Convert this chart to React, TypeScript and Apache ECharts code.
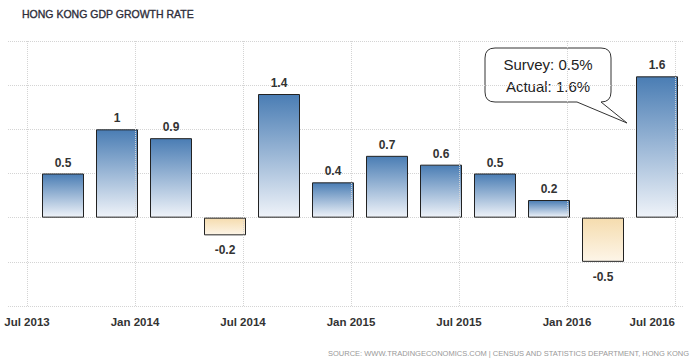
import React, { useEffect, useRef } from "react";
import * as echarts from "echarts";

// Quarter positions: months since Jul 2013
const quarters = ["Q3 2013", "Q4 2013", "Q1 2014", "Q2 2014", "Q3 2014", "Q4 2014", "Q1 2015", "Q2 2015", "Q3 2015", "Q4 2015", "Q1 2016", "Q2 2016"];
const quarterMonths = [2, 5, 8, 11, 14, 17, 20, 23, 26, 29, 32, 35];
const gdpGrowth = [0.5, 1, 0.9, -0.2, 1.4, 0.4, 0.7, 0.6, 0.5, 0.2, -0.5, 1.6];
const tickMonths = [0, 6, 12, 18, 24, 30, 36];
const tickLabels = ["Jul 2013", "Jan 2014", "Jul 2014", "Jan 2015", "Jul 2015", "Jan 2016", "Jul 2016"];

const TITLE = "HONG KONG GDP GROWTH RATE";
const SOURCE = "SOURCE: WWW.TRADINGECONOMICS.COM | CENSUS AND STATISTICS DEPARTMENT, HONG KONG";
const CALLOUT = "Survey: 0.5%\nActual: 1.6%";

const BUBBLE_D =
  "M 495 48 L 601 48 Q 611 48 611 58 L 611 92 Q 611 102 601 102 L 627 123 L 577 102 L 495 102 Q 485 102 485 92 L 485 58 Q 485 48 495 48 Z";

let registered = false;

export default function App() {
  const ref = useRef<HTMLDivElement>(null);
  useEffect(() => {
    document.body.style.margin = "0";
    if (!registered) {
      echarts.graphic.registerShape("bubble", echarts.graphic.extendPath(BUBBLE_D, {}) as any);
      registered = true;
    }
    const chart = echarts.init(ref.current!, undefined, { renderer: "svg" });
    const posGrad = new echarts.graphic.LinearGradient(0, 0, 0, 1, [
      { offset: 0, color: "#4a7db4" },
      { offset: 1, color: "#eff3f9" },
    ]);
    const negGrad = new echarts.graphic.LinearGradient(0, 0, 0, 1, [
      { offset: 0, color: "#f5dcae" },
      { offset: 1, color: "#fdf5e8" },
    ]);
    const font = "'Liberation Sans', Arial, sans-serif";
    chart.setOption({
      animation: false,
      grid: { left: 8, right: 8, top: 41, bottom: 58, containLabel: false, outerBoundsMode: "none" },
      xAxis: {
        type: "value",
        min: -1.056,
        max: 36.444,
        axisLine: { show: false },
        axisTick: { show: false },
        axisLabel: {
          customValues: tickMonths,
          margin: 10,
          color: "#333",
          fontSize: 11.5,
          fontWeight: "bold",
          fontFamily: font,
          alignMaxLabel: "right",
          formatter: (v: number) => {
            const i = tickMonths.indexOf(Math.round(v));
            return i >= 0 ? tickLabels[i] : "";
          },
        },
        splitLine: { show: false },
      },
      yAxis: {
        type: "value",
        min: -1,
        max: 2,
        interval: 0.5,
        axisLabel: { show: false },
        axisLine: { show: false },
        axisTick: { show: false },
        splitLine: { show: true, lineStyle: { type: "dotted", color: "#d4d4d4" } },
      },
      series: [
        {
          type: "bar",
          barWidth: 42,
          markLine: {
            silent: true,
            symbol: "none",
            label: { show: false },
            lineStyle: { type: "dotted", color: "#d4d4d4", width: 1 },
            data: tickMonths.map((m) => ({ xAxis: m })),
          },
          data: quarterMonths.map((m, i) => {
            const v = gdpGrowth[i];
            const neg = v < 0;
            return {
              name: quarters[i],
              value: [m, v],
              itemStyle: { color: neg ? negGrad : posGrad, borderColor: "#222", borderWidth: 1 },
              label: {
                show: true,
                position: neg ? "bottom" : "top",
                distance: neg ? 9 : 5,
                formatter: String(v),
                color: "#333",
                fontSize: 12,
                fontWeight: "bold",
                fontFamily: font,
              },
            };
          }),
        },
      ],
      graphic: [
        {
          type: "text",
          x: 22,
          y: 14,
          style: {
            text: TITLE,
            fill: "#2e2e3a",
            stroke: "#2e2e3a",
            lineWidth: 0.35,
            fontSize: 10.5,
            fontFamily: font,
            fontWeight: "normal",
            verticalAlign: "middle",
          },
        },
        {
          type: "text",
          x: 689,
          y: 353,
          style: { text: SOURCE, fill: "#999", fontSize: 7.5, fontFamily: font, align: "right", verticalAlign: "middle" },
        },
        {
          type: "bubble",
          x: 0,
          y: 0,
          style: { fill: "#fff", stroke: "#333", lineWidth: 1 },
        },
        {
          type: "text",
          x: 548,
          y: 75,
          style: {
            text: CALLOUT,
            fill: "#222",
            fontSize: 15,
            lineHeight: 22,
            fontFamily: font,
            align: "center",
            verticalAlign: "middle",
          },
        },
      ],
    });
    return () => chart.dispose();
  }, []);
  return <div ref={ref} style={{ width: 691, height: 364 }} />;
}
